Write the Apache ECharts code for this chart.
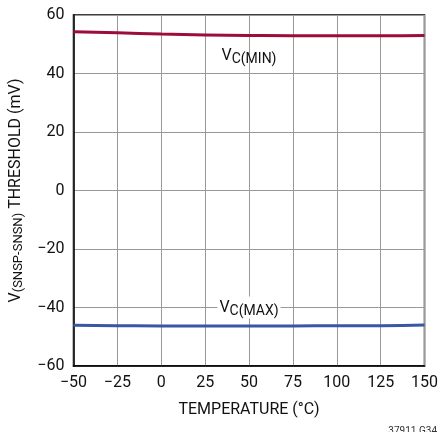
<!DOCTYPE html>
<html>
<head>
<meta charset="utf-8">
<script src="https://cdn.jsdelivr.net/npm/echarts@6/dist/echarts.min.js"></script>
<style>
  html, body { margin: 0; padding: 0; background: #fff; }
  #chart { width: 441px; height: 432px; }
</style>
</head>
<body>
<div id="chart"></div>
<script>
// 温度 (°C)
const temps = [-50, -25, 0, 25, 50, 75, 100, 125, 150];
// 阈值 (mV)
const vcMin = [54.3, 53.9, 53.5, 53.2, 53.0, 52.9, 52.9, 52.9, 53.0];
const vcMax = [-46.1, -46.2, -46.3, -46.3, -46.3, -46.3, -46.2, -46.2, -46.0];
const xTicks = [-50, -25, 0, 25, 50, 75, 100, 125, 150];
const yTicks = [-60, -40, -20, 0, 20, 40, 60];

const font = '"Liberation Sans Narrow", "Roboto", "Liberation Sans", sans-serif';
const chart = echarts.init(document.getElementById('chart'));

const option = {
  animation: false,
  grid: {
    left: 73, top: 15, right: 16, bottom: 66,
    show: true, borderColor: '#000', borderWidth: 1.5
  },
  xAxis: {
    type: 'value',
    min: xTicks[0], max: xTicks[xTicks.length - 1], interval: 25,
    name: 'TEMPERATURE (°C)',
    nameLocation: 'middle', nameGap: 36,
    nameTextStyle: { fontFamily: font, fontSize: 16, color: '#111' },
    axisLine: { show: true, onZero: false, lineStyle: { color: '#000', width: 1.5 } },
    axisTick: { show: false },
    axisLabel: {
      fontFamily: font, fontSize: 16, color: '#111', margin: 9,
      formatter: v => String(v).replace('-', '\u2212')
    },
    splitLine: { show: true, lineStyle: { color: '#999', width: 1 } }
  },
  yAxis: {
    type: 'value',
    min: yTicks[0], max: yTicks[yTicks.length - 1], interval: 20,
    name: '{v|V}{s|(SNSP-SNSN)}{v| THRESHOLD (mV)}',
    nameLocation: 'middle', nameGap: 48, nameRotate: 90,
    nameTextStyle: {
      rich: {
        v: { fontFamily: font, fontSize: 16, color: '#111' },
        s: { fontFamily: font, fontSize: 13, color: '#111', verticalAlign: 'bottom', padding: [6, 0, 0, 0] }
      }
    },
    axisLine: { show: true, onZero: false, lineStyle: { color: '#000', width: 1.5 } },
    axisTick: { show: false },
    axisLabel: {
      fontFamily: font, fontSize: 16, color: '#111', margin: 9,
      formatter: v => String(v).replace('-', '\u2212')
    },
    splitLine: { show: true, lineStyle: { color: '#999', width: 1 } }
  },
  series: [
    {
      name: 'VC(MIN)', type: 'line', smooth: true, symbol: 'none',
      data: temps.map((t, i) => [t, vcMin[i]]),
      lineStyle: { color: '#9c0d3a', width: 3 },
      markPoint: {
        symbol: 'rect', symbolSize: 0,
        data: [{ coord: [50, 46], value: '' }],
        label: {
          show: true, formatter: '{v|V}{s|C(MIN)}',
          rich: {
            v: { fontFamily: font, fontSize: 16, color: '#111' },
            s: { fontFamily: font, fontSize: 14, color: '#111', padding: [8, 0, 0, 0] }
          }
        }
      }
    },
    {
      name: 'VC(MAX)', type: 'line', smooth: true, symbol: 'none',
      data: temps.map((t, i) => [t, vcMax[i]]),
      lineStyle: { color: '#3a56a6', width: 3 },
      markPoint: {
        symbol: 'rect', symbolSize: 0,
        data: [{ coord: [50, -40], value: '' }],
        label: {
          show: true, formatter: '{v|V}{s|C(MAX)}',
          backgroundColor: '#fff', padding: [0, 2, 0, 2],
          rich: {
            v: { fontFamily: font, fontSize: 16, color: '#111' },
            s: { fontFamily: font, fontSize: 14, color: '#111', padding: [8, 0, 0, 0] }
          }
        }
      }
    }
  ],
  graphic: [{
    type: 'text', right: 4, bottom: -4,
    style: { text: '37911 G34', fontFamily: font, fontSize: 10, fill: '#333' }
  }]
};
chart.setOption(option);
</script>
</body>
</html>
